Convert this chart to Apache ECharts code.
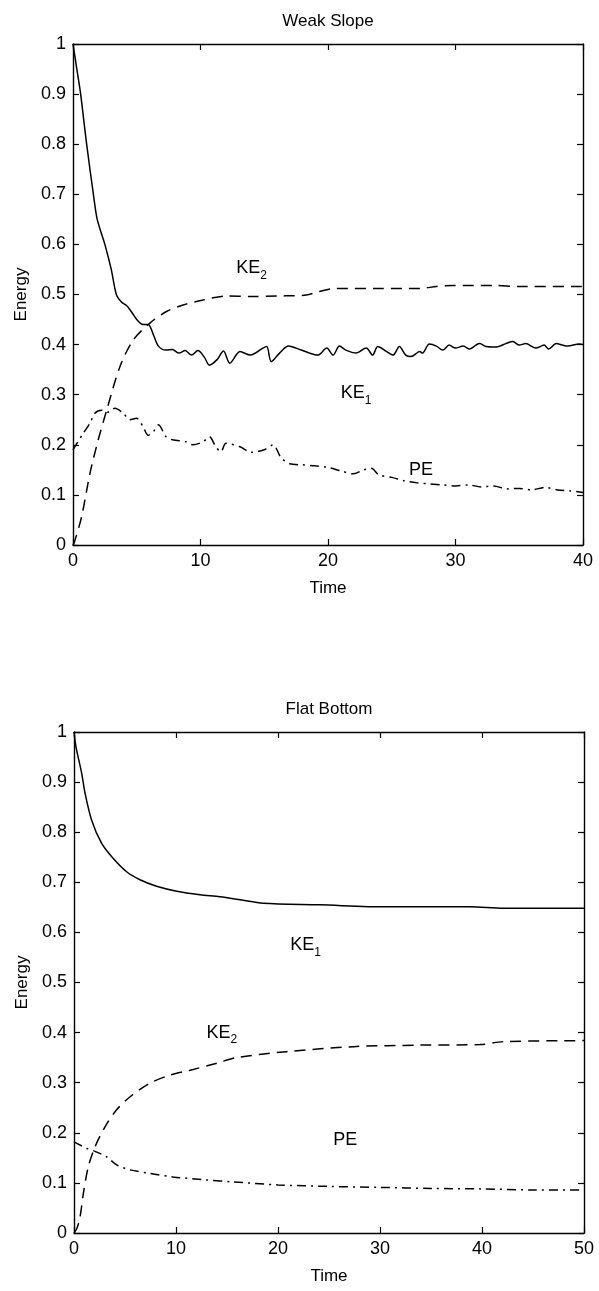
<!DOCTYPE html>
<html><head><meta charset="utf-8">
<script src="https://cdn.jsdelivr.net/npm/echarts/dist/echarts.min.js"></script>
<style>html,body{margin:0;padding:0;background:#fff}#c{width:599px;height:1291px}</style>
</head><body><div id="c"></div><script>
// ---- Data: Weak Slope (top) ----
const weakKE1 = [[0,1.0],[0.3,0.95],[0.6,0.9],[1.07,0.8],[1.6,0.7],[1.9,0.65],[2.5,0.6],[3.0,0.55],[3.4,0.5],[3.8,0.485],[4.2,0.478],[4.6,0.465],[5.0,0.45],[5.5,0.44],[5.9,0.44],[6.3,0.42],[6.7,0.397],[7.3,0.389],[7.8,0.39],[8.3,0.383],[8.8,0.388],[9.3,0.379],[9.8,0.388],[10.3,0.375],[10.7,0.359],[11.3,0.37],[11.8,0.387],[12.3,0.363],[13.1,0.386],[13.9,0.379],[14.9,0.393],[15.2,0.396],[15.55,0.366],[16.2,0.383],[16.9,0.397],[17.5,0.393],[18.55,0.383],[19.2,0.379],[19.9,0.393],[20.4,0.379],[20.9,0.397],[21.4,0.389],[22.2,0.383],[23.0,0.393],[23.5,0.379],[23.9,0.396],[24.6,0.386],[25.1,0.379],[25.6,0.396],[26.1,0.379],[26.5,0.376],[27.2,0.386],[27.4,0.383],[27.95,0.401],[28.5,0.397],[29.0,0.389],[29.5,0.399],[30.0,0.393],[30.6,0.397],[31.1,0.391],[31.6,0.399],[31.9,0.402],[32.4,0.396],[33.2,0.395],[33.95,0.402],[34.5,0.406],[35.0,0.399],[35.5,0.402],[36.3,0.393],[36.95,0.399],[37.3,0.391],[37.9,0.402],[38.4,0.399],[38.8,0.397],[39.7,0.401],[40,0.4]];
const weakKE2 = [[0,0],[0.1,0.005],[0.68,0.057],[1.33,0.143],[1.98,0.21],[2.64,0.269],[3.68,0.356],[4.72,0.409],[6.03,0.443],[7.33,0.466],[8.64,0.479],[10.2,0.489],[12.0,0.497],[14,0.496],[16,0.497],[18.3,0.499],[19.3,0.506],[20.6,0.512],[24,0.512],[27.2,0.512],[28.5,0.516],[29.8,0.518],[33,0.518],[35,0.516],[40,0.516]];
const weakPE = [[0,0.19],[0.8,0.223],[1.33,0.243],[1.72,0.263],[2.24,0.269],[2.7,0.265],[3.29,0.273],[3.94,0.263],[4.46,0.25],[4.98,0.253],[5.5,0.236],[5.9,0.219],[6.3,0.226],[6.7,0.24],[7.3,0.216],[7.8,0.21],[8.9,0.206],[9.4,0.2],[10.2,0.206],[10.7,0.216],[11.2,0.196],[11.6,0.186],[12.0,0.203],[13.1,0.196],[14,0.185],[15,0.19],[15.7,0.2],[16.3,0.175],[17,0.162],[18,0.16],[19,0.158],[20,0.155],[21,0.148],[22,0.142],[22.8,0.15],[23.4,0.153],[24,0.14],[25,0.135],[26,0.128],[27,0.124],[28,0.122],[29,0.12],[30,0.118],[31,0.12],[32,0.116],[33,0.118],[34,0.112],[35,0.113],[36,0.11],[37,0.115],[38,0.11],[39,0.108],[40,0.105]];

// ---- Data: Flat Bottom (bottom) ----
const flatKE1 = [[0,1.0],[0.2,0.97],[0.75,0.918],[1.08,0.878],[1.73,0.824],[2.7,0.778],[3.7,0.751],[5.16,0.721],[6.47,0.705],[8.1,0.692],[10.07,0.682],[12.35,0.675],[14.3,0.671],[16.3,0.665],[18.55,0.658],[24.1,0.655],[30.6,0.651],[38.8,0.651],[42.1,0.648],[50,0.648]];
const flatKE2 = [[0,0],[0.3,0.01],[0.6,0.033],[0.92,0.079],[1.4,0.132],[2.06,0.172],[3.04,0.212],[4.18,0.246],[5.5,0.272],[7.45,0.299],[9.4,0.315],[11.4,0.325],[14.0,0.339],[15.9,0.35],[20.85,0.362],[27.4,0.372],[33.9,0.375],[39.8,0.376],[42.1,0.382],[50,0.384]];
const flatPE = [[0,0.182],[1.24,0.169],[2.06,0.163],[3.2,0.152],[4.18,0.136],[5.5,0.126],[7.45,0.119],[9.7,0.112],[13.0,0.106],[15.6,0.102],[20,0.096],[25,0.093],[30,0.091],[35,0.089],[40,0.088],[45,0.086],[50,0.086]];

// ---- Text ----
const titles = ['Weak Slope', 'Flat Bottom'];
const xName = 'Time', yName = 'Energy';
const xMax = [40, 50];
// curve labels: [name, subscript, t, E]
const weakLabels = [['KE','2',14.0,0.552],['KE','1',22.2,0.303],['PE','',27.3,0.150]];
const flatLabels = [['KE','1',22.7,0.575],['KE','2',14.5,0.400],['PE','',26.6,0.186]];

const FONT = 'Liberation Sans, Arial, Helvetica, sans-serif';
const chart = echarts.init(document.getElementById('c'), null, {renderer:'canvas'});

const grids = [
  {left:73, top:44, width:510, height:501},
  {left:74, top:732, width:510, height:501}
];
const axisLine = {show:true, onZero:false, lineStyle:{color:'#000', width:1.4}};
const tick = {show:true, inside:true, length:6, lineStyle:{color:'#000', width:1.2}};
const xAxes = [], yAxes = [];
[0,1].forEach(g => {
  xAxes.push({gridIndex:g, type:'value', min:0, max:xMax[g], interval:10, position:'bottom',
    axisLine, axisTick:tick, splitLine:{show:false},
    axisLabel:{color:'#000', fontSize:18, fontFamily:FONT, margin:7},
    name:xName, nameLocation:'middle', nameGap:35, nameTextStyle:{color:'#000', fontSize:17, fontFamily:FONT}});
  xAxes.push({gridIndex:g, type:'value', min:0, max:xMax[g], interval:10, position:'top',
    axisLine, axisTick:tick, splitLine:{show:false}, axisLabel:{show:false}});
  yAxes.push({gridIndex:g, type:'value', min:0, max:1, interval:0.1, position:'left',
    axisLine, axisTick:tick, splitLine:{show:false},
    axisLabel:{color:'#000', fontSize:18, fontFamily:FONT, margin:7, formatter:v => String(+v.toFixed(1))},
    name:yName, nameLocation:'middle', nameGap:42, nameTextStyle:{color:'#000', fontSize:17, fontFamily:FONT}});
  yAxes.push({gridIndex:g, type:'value', min:0, max:1, interval:0.1, position:'right',
    axisLine, axisTick:tick, splitLine:{show:false}, axisLabel:{show:false}});
});

const rich = {
  m:{fontSize:18, fontFamily:FONT, color:'#000', lineHeight:27},
  s:{fontSize:12, fontFamily:FONT, color:'#000', lineHeight:12, verticalAlign:'bottom'}
};
function mk(labels){
  return {symbol:'circle', symbolSize:0, silent:true,
    data: labels.map(l => ({coord:[l[2], l[3]],
      label:{show:true, position:'inside', formatter: l[1] ? '{m|'+l[0]+'}{s|'+l[1]+'}' : '{m|'+l[0]+'}', rich}}))};
}
const styles = {
  solid:{color:'#000', width:1.5, type:'solid'},
  dash:{color:'#000', width:1.5, type:[11,7]},
  dashdot:{color:'#000', width:1.5, type:[9,5,2,5]}
};
function line(data, g, st, marks){
  const s = {type:'line', data, xAxisIndex:g*2, yAxisIndex:g*2, showSymbol:false, smooth:0.3,
    lineStyle:styles[st], animation:false, z:3};
  if (marks) s.markPoint = marks;
  return s;
}
chart.setOption({
  animation:false,
  backgroundColor:'#fff',
  grid:grids,
  xAxis:xAxes,
  yAxis:yAxes,
  series:[
    line(weakKE1,0,'solid',mk(weakLabels)),
    line(weakKE2,0,'dash'),
    line(weakPE,0,'dashdot'),
    line(flatKE1,1,'solid',mk(flatLabels)),
    line(flatKE2,1,'dash'),
    line(flatPE,1,'dashdot')
  ],
  graphic: titles.map((t,i) => ({type:'text', x:grids[i].left + grids[i].width/2, y:grids[i].top - 23,
    style:{text:t, fill:'#000', font:'17px '+FONT, textAlign:'center', textVerticalAlign:'middle'}}))
});
</script></body></html>
